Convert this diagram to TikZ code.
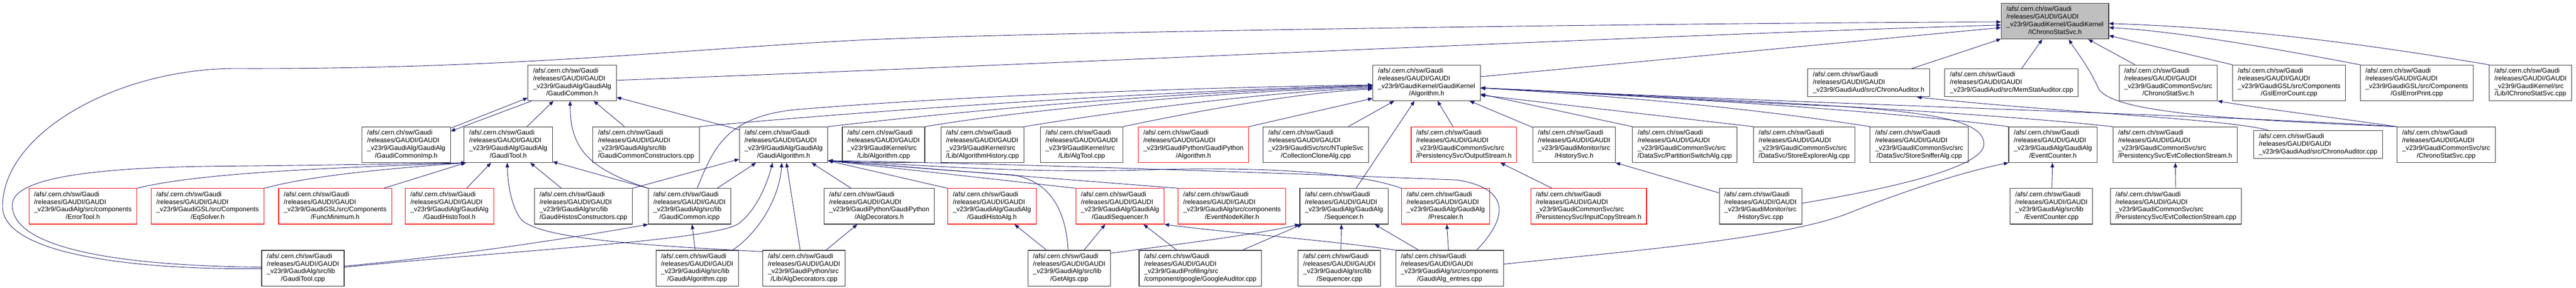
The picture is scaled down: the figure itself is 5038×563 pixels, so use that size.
\documentclass[tikz,border=0pt]{standalone}
\usepackage{fontspec}
\setmainfont{Liberation Sans}
\usetikzlibrary{arrows.meta}
\definecolor{edgeblue}{RGB}{25,25,112}
\definecolor{rootgrey}{RGB}{191,191,191}
\newcommand{\gpath}[2]{\begin{tabular}{@{}l@{}}/afs/.cern.ch/sw/Gaudi\\/releases/GAUDI/GAUDI\\#1\\\multicolumn{1}{@{}c@{}}{#2}\end{tabular}}
\newcommand{\gline}[1]{\begin{tabular}{@{}l@{}}/afs/.cern.ch/sw/Gaudi\\/releases/GAUDI/GAUDI\\#1\end{tabular}}

\begin{document}
\begin{tikzpicture}[x=1pt, y=-1pt, font=\fontsize{12.9}{14.9}\selectfont, >={Triangle[length=9pt,width=7pt]},
                    gfile/.style = {draw=black!80, line width=1.1pt, fill=white, inner xsep=10pt, inner ysep=5pt},
                    gmiss/.style = {gfile, draw=red},
                    groot/.style = {gfile, fill=rootgrey},
                    dep/.style = {->, draw=edgeblue, line width=0.9pt}]
                    \useasboundingbox (0,0) rectangle (5038,563);
                    \node[groot] (ich) at (4019,41.5) {\gpath{\_v23r9/GaudiKernel/GaudiKernel}{/IChronoStatSvc.h}};
                    \node[gfile] (gcom) at (1119,162) {\gpath{\_v23r9/GaudiAlg/GaudiAlg}{/GaudiCommon.h}};
                    \node[gfile] (algh) at (2790,162) {\gpath{\_v23r9/GaudiKernel/GaudiKernel}{/Algorithm.h}};
                    \node[gfile] (caudh) at (3654.5,162) {\gline{\_v23r9/GaudiAud/src/ChronoAuditor.h}};
                    \node[gfile] (memst) at (3934,162) {\gline{\_v23r9/GaudiAud/src/MemStatAuditor.cpp}};
                    \node[gfile] (csvch) at (4240.5,162) {\gpath{\_v23r9/GaudiCommonSvc/src}{/ChronoStatSvc.h}};
                    \node[gfile] (gslc) at (4477,162) {\gpath{\_v23r9/GaudiGSL/src/Components}{/GslErrorCount.cpp}};
                    \node[gfile] (gslp) at (4726.5,162) {\gpath{\_v23r9/GaudiGSL/src/Components}{/GslErrorPrint.cpp}};
                    \node[gfile] (icsvc) at (4949,162) {\gpath{\_v23r9/GaudiKernel/src}{/Lib/IChronoStatSvc.cpp}};
                    \node[gfile] (gcimp) at (794.5,283) {\gpath{\_v23r9/GaudiAlg/GaudiAlg}{/GaudiCommonImp.h}};
                    \node[gfile] (gtoolh) at (994,283) {\gpath{\_v23r9/GaudiAlg/GaudiAlg}{/GaudiTool.h}};
                    \node[gfile] (gcconst) at (1263.5,283) {\gpath{\_v23r9/GaudiAlg/src/lib}{/GaudiCommonConstructors.cpp}};
                    \node[gfile] (galgh) at (1532.5,283) {\gpath{\_v23r9/GaudiAlg/GaudiAlg}{/GaudiAlgorithm.h}};
                    \node[gfile] (algcpp) at (1728,283) {\gpath{\_v23r9/GaudiKernel/src}{/Lib/Algorithm.cpp}};
                    \node[gfile] (alghis) at (1921.5,283) {\gpath{\_v23r9/GaudiKernel/src}{/Lib/AlgorithmHistory.cpp}};
                    \node[gfile] (algtl) at (2115.5,283) {\gpath{\_v23r9/GaudiKernel/src}{/Lib/AlgTool.cpp}};
                    \node[gmiss] (pyalg) at (2334,283) {\gpath{\_v23r9/GaudiPython/GaudiPython}{/Algorithm.h}};
                    \node[gfile] (clone) at (2573.5,283) {\gpath{\_v23r9/GaudiSvc/src/NTupleSvc}{/CollectionCloneAlg.cpp}};
                    \node[gmiss] (outst) at (2863,283) {\gpath{\_v23r9/GaudiCommonSvc/src}{/PersistencySvc/OutputStream.h}};
                    \node[gfile] (hsvch) at (3078.5,283) {\gpath{\_v23r9/GaudiMonitor/src}{/HistorySvc.h}};
                    \node[gfile] (partsw) at (3295,283) {\gpath{\_v23r9/GaudiCommonSvc/src}{/DataSvc/PartitionSwitchAlg.cpp}};
                    \node[gfile] (stexp) at (3528.5,283) {\gpath{\_v23r9/GaudiCommonSvc/src}{/DataSvc/StoreExplorerAlg.cpp}};
                    \node[gfile] (stsnf) at (3753.5,283) {\gpath{\_v23r9/GaudiCommonSvc/src}{/DataSvc/StoreSnifferAlg.cpp}};
                    \node[gfile] (evch) at (4015,283) {\gpath{\_v23r9/GaudiAlg/GaudiAlg}{/EventCounter.h}};
                    \node[gfile] (ecolh) at (4254,283) {\gpath{\_v23r9/GaudiCommonSvc/src}{/PersistencySvc/EvtCollectionStream.h}};
                    \node[gfile] (caudcpp) at (4533.5,282.5) {\gline{\_v23r9/GaudiAud/src/ChronoAuditor.cpp}};
                    \node[gfile] (csvccpp) at (4784,283) {\gpath{\_v23r9/GaudiCommonSvc/src}{/ChronoStatSvc.cpp}};
                    \node[gmiss] (errt) at (162,403.5) {\gpath{\_v23r9/GaudiAlg/src/components}{/ErrorTool.h}};
                    \node[gmiss] (eqs) at (406,403.5) {\gpath{\_v23r9/GaudiGSL/src/Components}{/EqSolver.h}};
                    \node[gmiss] (fmin) at (655.5,403.5) {\gpath{\_v23r9/GaudiGSL/src/Components}{/FuncMinimum.h}};
                    \node[gmiss] (htool) at (879,403.5) {\gpath{\_v23r9/GaudiAlg/GaudiAlg}{/GaudiHistoTool.h}};
                    \node[gfile] (hconst) at (1141,403.5) {\gpath{\_v23r9/GaudiAlg/src/lib}{/GaudiHistosConstructors.cpp}};
                    \node[gfile] (gcicpp) at (1348.5,403.5) {\gpath{\_v23r9/GaudiAlg/src/lib}{/GaudiCommon.icpp}};
                    \node[gfile] (adech) at (1719.5,403.5) {\gpath{\_v23r9/GaudiPython/GaudiPython}{/AlgDecorators.h}};
                    \node[gmiss] (halg) at (1940,403.5) {\gpath{\_v23r9/GaudiAlg/GaudiAlg}{/GaudiHistoAlg.h}};
                    \node[gmiss] (gseq) at (2190.5,403.5) {\gpath{\_v23r9/GaudiAlg/GaudiAlg}{/GaudiSequencer.h}};
                    \node[gmiss] (enk) at (2409.5,403.5) {\gpath{\_v23r9/GaudiAlg/src/components}{/EventNodeKiller.h}};
                    \node[gfile] (seqh) at (2628.5,403.5) {\gpath{\_v23r9/GaudiAlg/GaudiAlg}{/Sequencer.h}};
                    \node[gmiss] (presc) at (2827.5,403.5) {\gpath{\_v23r9/GaudiAlg/GaudiAlg}{/Prescaler.h}};
                    \node[gmiss] (incp) at (3107,403.5) {\gpath{\_v23r9/GaudiCommonSvc/src}{/PersistencySvc/InputCopyStream.h}};
                    \node[gfile] (hsvccpp) at (3443,403.5) {\gpath{\_v23r9/GaudiMonitor/src}{/HistorySvc.cpp}};
                    \node[gfile] (evccpp) at (4012,403.5) {\gpath{\_v23r9/GaudiAlg/src/lib}{/EventCounter.cpp}};
                    \node[gfile] (ecolcpp) at (4255.5,403.5) {\gpath{\_v23r9/GaudiCommonSvc/src}{/PersistencySvc/EvtCollectionStream.cpp}};
                    \node[gfile] (gtoolcpp) at (592.5,524.5) {\gpath{\_v23r9/GaudiAlg/src/lib}{/GaudiTool.cpp}};
                    \node[gfile] (galgcpp) at (1363.5,524.5) {\gpath{\_v23r9/GaudiAlg/src/lib}{/GaudiAlgorithm.cpp}};
                    \node[gfile] (adeccpp) at (1572.5,524.5) {\gpath{\_v23r9/GaudiPython/src}{/Lib/AlgDecorators.cpp}};
                    \node[gfile] (getalg) at (2091,524.5) {\gpath{\_v23r9/GaudiAlg/src/lib}{/GetAlgs.cpp}};
                    \node[gfile] (goog) at (2347.5,524.5) {\gpath{\_v23r9/GaudiProfiling/src}{/component/google/GoogleAuditor.cpp}};
                    \node[gfile] (seqcpp) at (2619.5,524.5) {\gpath{\_v23r9/GaudiAlg/src/lib}{/Sequencer.cpp}};
                    \node[gfile] (entr) at (2835,524.5) {\gpath{\_v23r9/GaudiAlg/src/components}{/GaudiAlg\_entries.cpp}};
                    \draw[dep] ([yshift=-1pt]gtoolcpp.west) .. controls (250,528) and (5,495) .. (5,404) .. controls (5,260) and (230,134) .. (461,134) .. controls (1000,136) and (1350,95) .. (1690,78) .. controls (2100,60) and (3400,44) .. ([yshift=-1.5pt]ich.west);
                    \draw[dep] ([yshift=5pt]gcom.east) .. controls (2000,128) and (3200,70) .. ([yshift=-7.5pt]ich.west);
                    \draw[dep] ([yshift=12pt]algh.east) -- ([yshift=-12.5pt]ich.west);
                    \draw[dep] (caudh) -- (ich);
                    \draw[dep] (memst) -- (ich);
                    \draw[dep] (csvch) -- (ich);
                    \draw[dep] (csvccpp.north west) .. controls (4300,232) and (4135,215) .. (4105,175) .. controls (4085,130) and (4060,100) .. ([xshift=27pt]ich.south);
                    \draw[dep] (icsvc.north west) .. controls (4650,90) and (4400,55) .. ([yshift=-4.5pt]ich.east);
                    \draw[dep] (gslp.north west) .. controls (4450,95) and (4250,60) .. ([yshift=-12.5pt]ich.east);
                    \draw[dep] (gslc.north west) -- ([yshift=-28pt]ich.east);
                    \draw[dep] ([yshift=-3pt]gcimp.north east) -- ([yshift=6pt]gcom.south west);
                    \draw[dep] ([xshift=8pt]gcom.south west) -- ([yshift=-9pt]gcimp.north east);
                    \draw[dep] (gtoolh) -- (gcom);
                    \draw[dep] (gcicpp.north west) .. controls (1150,330) and (1115,290) .. ([xshift=-4pt]gcom.south);
                    \draw[dep] (gcconst) -- (gcom);
                    \draw[dep] ([yshift=-6pt]galgh.north west) -- ([yshift=7pt]gcom.south east);
                    \draw[dep] (errt.north east) .. controls (400,335) and (700,327) .. ([xshift=4pt]gtoolh.south west);
                    \draw[dep] (eqs.north east) .. controls (620,340) and (800,327) .. ([xshift=4pt]gtoolh.south west);
                    \draw[dep] ([xshift=-16pt]fmin.north east) -- ([xshift=4pt]gtoolh.south west);
                    \draw[dep] ([yshift=2pt]gtoolcpp.west) .. controls (250,520) and (24,490) .. (24,401) .. controls (24,345) and (200,327) .. (434,325) .. controls (650,323) and (800,320) .. ([xshift=4pt]gtoolh.south west);
                    \draw[dep] (htool) -- (gtoolh);
                    \draw[dep] (hconst) -- (gtoolh);
                    \draw[dep] (gcicpp.north west) -- ([yshift=2pt]gtoolh.south east);
                    \draw[dep] ([yshift=-3pt]adeccpp.north west) .. controls (1300,482) and (1060,470) .. (1020,430) .. controls (1000,405) and (993,360) .. ([xshift=-2pt]gtoolh.south);
                    \draw[dep] (hconst.north east) -- ([yshift=7pt]galgh.south west);
                    \draw[dep] (gcicpp) -- (galgh);
                    \draw[dep] ([yshift=2pt]gtoolcpp.east) .. controls (1000,490) and (1400,470) .. (1445,437) .. controls (1480,410) and (1500,360) .. ([xshift=-21.5pt]galgh.south);
                    \draw[dep] ([xshift=-12pt]galgcpp.north east) .. controls (1490,450) and (1525,380) .. ([xshift=-3.5pt]galgh.south);
                    \draw[dep] ([xshift=-7.5pt]adeccpp.north) -- ([xshift=5.5pt]galgh.south);
                    \draw[dep] (adech) -- (galgh);
                    \draw[dep] (halg.north west) -- ([yshift=4pt]galgh.south east);
                    \draw[dep] ([xshift=-2pt]getalg.north) .. controls (2085,420) and (2060,355) .. (1980,342) .. controls (1800,330) and (1700,320) .. ([yshift=4pt]galgh.south east);
                    \draw[dep] (gseq.north west) -- ([yshift=4pt]galgh.south east);
                    \draw[dep] (enk.north west) -- ([yshift=4pt]galgh.south east);
                    \draw[dep] (presc.north west) .. controls (2650,335) and (2450,326) .. (2250,332) .. controls (2000,340) and (1800,322) .. ([yshift=4pt]galgh.south east);
                    \draw[dep] ([xshift=53pt]entr.north) .. controls (2945,430) and (2960,370) .. (2850,352) .. controls (2500,338) and (1900,318) .. ([yshift=4pt]galgh.south east);
                    \draw[dep] ([xshift=15pt]gcicpp.north) .. controls (1395,290) and (1420,230) .. (1550,215) .. controls (1900,185) and (2400,170) .. ([yshift=-4pt]algh.west);
                    \draw[dep] (gcconst.north east) .. controls (1600,225) and (2200,180) .. ([yshift=-5pt]algh.west);
                    \draw[dep] (galgh.north east) .. controls (1900,215) and (2300,180) .. ([yshift=-6pt]algh.west);
                    \draw[dep] (algcpp.north east) .. controls (2000,215) and (2400,178) .. ([yshift=-8pt]algh.west);
                    \draw[dep] (alghis.north east) .. controls (2200,215) and (2500,178) .. ([yshift=-10pt]algh.west);
                    \draw[dep] (algtl.north east) .. controls (2350,215) and (2550,180) .. ([yshift=-12pt]algh.west);
                    \draw[dep] (pyalg.north east) -- ([yshift=5pt]algh.south west);
                    \draw[dep] (clone) -- (algh);
                    \draw[dep] (seqh) -- (algh);
                    \draw[dep] (outst) -- (algh);
                    \draw[dep] (hsvch) -- (algh);
                    \draw[dep] (partsw.north west) -- ([yshift=-22pt]algh.east);
                    \draw[dep] (stexp.north west) -- ([yshift=-24pt]algh.east);
                    \draw[dep] (stsnf.north west) .. controls (3450,215) and (3200,190) .. ([yshift=-10pt]algh.east);
                    \draw[dep] ([yshift=6pt]hsvccpp.east) .. controls (3750,360) and (3880,320) .. (3880,282) .. controls (3880,240) and (3800,222) .. (3600,208) .. controls (3300,196) and (3100,180) .. ([yshift=-10pt]algh.east);
                    \draw[dep] (evch.north west) .. controls (3700,218) and (3300,192) .. ([yshift=-10pt]algh.east);
                    \draw[dep] (ecolh.north west) .. controls (3900,222) and (3400,195) .. ([yshift=-10pt]algh.east);
                    \draw[dep] (csvccpp.north west) .. controls (4400,228) and (3600,205) .. ([yshift=-10pt]algh.east);
                    \draw[dep] ([xshift=29pt]caudcpp.north west) .. controls (4350,232) and (4050,222) .. ([xshift=-25pt]caudh.south east);
                    \draw[dep] (csvccpp.north west) .. controls (4550,228) and (4420,212) .. (csvch.south east);
                    \draw[dep] (incp) -- (outst);
                    \draw[dep] ([yshift=-9pt]hsvccpp.north west) -- (hsvch.south east);
                    \draw[dep] (evccpp) -- (evch);
                    \draw[dep] ([yshift=8pt]entr.east) .. controls (3200,490) and (3500,465) .. (3620,415) .. controls (3760,360) and (3860,332) .. (evch.south west);
                    \draw[dep] (ecolcpp) -- (ecolh);
                    \draw[dep] ([xshift=3pt]seqcpp.north) -- ([xshift=-5pt]seqh.south);
                    \draw[dep] (entr) -- (seqh);
                    \draw[dep] (entr) -- (presc);
                    \draw[dep] (entr.north west) .. controls (2600,470) and (2400,455) .. (gseq.south east);
                    \draw[dep] (getalg) -- (halg);
                    \draw[dep] (getalg) -- (gseq);
                    \draw[dep] ([yshift=-6pt]getalg.north east) .. controls (2300,478) and (2450,460) .. (seqh.south west);
                    \draw[dep] (goog) -- (gseq);
                    \draw[dep] (goog) -- (seqh);
                    \draw[dep] ([xshift=-4pt]galgcpp.north) -- ([xshift=5pt]gcicpp.south);
                    \draw[dep] ([yshift=4pt]gtoolcpp.east) .. controls (900,500) and (1150,460) .. (gcicpp.south west);
                    \draw[dep] (adeccpp) -- (adech);
                \end{tikzpicture}
\end{document}
